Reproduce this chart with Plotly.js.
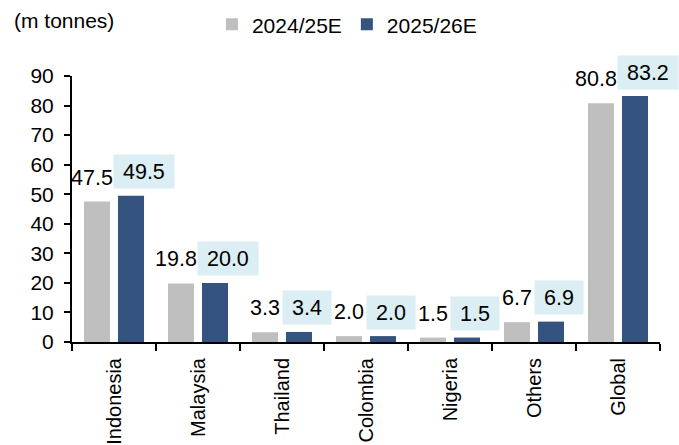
<!DOCTYPE html>
<html>
<head>
<meta charset="utf-8">
<script src="https://cdn.plot.ly/plotly-3.0.1.min.js"></script>
<style>
  body { margin: 0; background: #fff; }
  #chart { width: 679px; height: 445px; }
</style>
</head>
<body>
<div id="chart"></div>
<script>
// palm oil output by origin, m tonnes
const categories = ["Indonesia", "Malaysia", "Thailand", "Colombia", "Nigeria", "Others", "Global"];
const seriesNames = ["2024/25E", "2025/26E"];
const values2425 = [47.5, 19.8, 3.3, 2.0, 1.5, 6.7, 80.8];
const values2526 = [49.5, 20.0, 3.4, 2.0, 1.5, 6.9, 83.2];
const yTicks = [0, 10, 20, 30, 40, 50, 60, 70, 80, 90];

const FONT = "Liberation Sans, Arial, sans-serif";
const GREY = "#bfbfbf";
const NAVY = "#34537f";
const LABEL_BG = "#daeef3";
const LABEL_SIZE = 21.5;

// rough Arial width of a number label, px
function labelWidth(s) {
  let w = 0;
  for (const ch of s) w += ch === "." ? 0.278 : 0.556;
  return w * LABEL_SIZE;
}

const traces = [
  { x: categories, y: values2425, name: seriesNames[0], type: "bar", marker: { color: GREY } },
  { x: categories, y: values2526, name: seriesNames[1], type: "bar", marker: { color: NAVY } },
];

// value labels: grey text over the grey bar, boxed text for the blue bar.
// when the two would overlap they get pushed apart (like excel does)
const BAR_OFF = 17;   // px from category centre to each bar centre
const BOX_OFF = 8;    // box sits a bit right of the blue bar
const annotations = [];
categories.forEach((c, i) => {
  const gTxt = values2425[i].toFixed(1);
  const bTxt = values2526[i].toFixed(1);
  const gW = labelWidth(gTxt);
  const bW = labelWidth(bTxt) + 18;
  let gx = -BAR_OFF;
  let bx = BAR_OFF + BOX_OFF;
  const overlap = (gx + gW / 2 + 2) - (bx - bW / 2);
  if (overlap > 0) {
    gx -= overlap / 2;
    bx += overlap / 2;
  }
  annotations.push({
    x: c, y: values2425[i], xref: "x", yref: "y",
    text: gTxt, showarrow: false,
    xanchor: "center", yanchor: "middle", xshift: gx, yshift: 24,
    font: { family: FONT, size: LABEL_SIZE, color: "#000" },
  });
  annotations.push({
    x: c, y: values2526[i], xref: "x", yref: "y",
    text: bTxt, showarrow: false,
    xanchor: "center", yanchor: "middle", xshift: bx, yshift: 24,
    width: bW - 6, height: 27, borderpad: 3, bgcolor: LABEL_BG,
    font: { family: FONT, size: LABEL_SIZE, color: "#000" },
  });
});
annotations.push({
  xref: "paper", yref: "paper", x: -0.102, y: 1.21,
  xanchor: "left", yanchor: "middle", showarrow: false,
  text: "(m tonnes)", font: { family: FONT, size: 21, color: "#000" },
});

Plotly.newPlot("chart", traces, {
  width: 679,
  height: 445,
  margin: { l: 72, r: 19, t: 76, b: 102.5, autoexpand: false },
  paper_bgcolor: "#fff",
  plot_bgcolor: "#fff",
  font: { family: FONT, size: 21, color: "#000" },
  barmode: "group",
  bargap: 0.19,
  bargroupgap: 0.235,
  showlegend: true,
  legend: {
    orientation: "h", x: 0.238, y: 1.193, xanchor: "left", yanchor: "middle",
    font: { family: FONT, size: 21, color: "#000" },
    itemwidth: 30, traceorder: "normal",
  },
  xaxis: {
    type: "category", automargin: false, range: [-0.5, categories.length - 0.5],
    showline: true, linecolor: "#000", linewidth: 2,
    ticks: "outside", tickson: "boundaries", ticklen: 7, tickwidth: 2, tickcolor: "#000",
    tickangle: -90, ticklabelstandoff: 6, showgrid: false, zeroline: false,
    tickfont: { family: FONT, size: 20, color: "#000" },
  },
  yaxis: {
    range: [0, 90], automargin: false,
    tickmode: "array", tickvals: yTicks, ticktext: yTicks.map(String),
    showline: true, linecolor: "#000", linewidth: 2,
    ticks: "outside", ticklen: 6, tickwidth: 2, tickcolor: "#000",
    ticklabelstandoff: 6, showgrid: false, zeroline: false,
    tickfont: { family: FONT, size: 21, color: "#000" },
  },
  annotations: annotations,
}, { displayModeBar: false, staticPlot: true });
</script>
</body>
</html>
